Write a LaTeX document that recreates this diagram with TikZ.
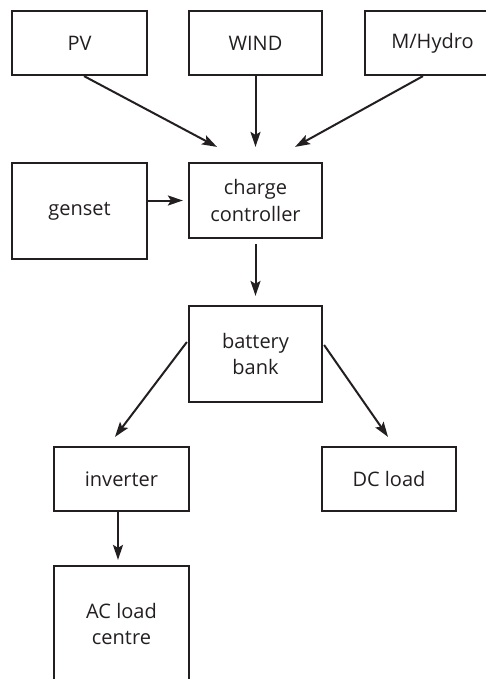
\documentclass[tikz,border=0pt]{standalone}
\usepackage{fontspec}
\setmainfont{Open Sans}
\usetikzlibrary{arrows.meta,calc}
\definecolor{ink}{HTML}{231F20}
\tikzset{
  box/.style={draw=ink, text=ink, line width=2.2pt, rectangle, minimum width=135pt, minimum height=64pt,
    align=center, inner sep=0pt, font=\fontsize{20}{26.5}\selectfont},
  arr/.style={draw=ink, line width=2pt, -{Stealth[length=15pt,width=10pt,inset=3pt]}}
}
\begin{document}
\begin{tikzpicture}[x=1pt,y=-1pt]
  \useasboundingbox (0,0) rectangle (486,679);
  \clip (0,0) rectangle (486,679);
  % sources
  \node[box] (pv) at (79.5,43) {PV};
  \node[box, minimum width=133pt] (wind) at (255.5,43) {WIND};
  \node[box] (hydro) at (432.5,43) {M/Hydro};
  % conversion and storage
  \node[box, minimum height=96pt] (gen) at (79.5,211) {genset};
  \node[box, minimum width=133pt, minimum height=75pt] (cc) at (255.5,200.5) {charge\\controller};
  \node[box, minimum width=133pt, minimum height=96pt] (bb) at (255.5,354) {battery\\bank};
  % loads
  \node[box] (inv) at (121.5,479) {inverter};
  \node[box, minimum width=134pt] (dc) at (389,479) {DC load};
  \node[box, minimum height=116pt] (ac) at (121.5,624) {AC load\\centre};
  % connectors
  \draw[arr] ($(pv.south)+(4.5,0)$) -- ($(cc.north)+(-38.5,-15)$);
  \draw[arr] (wind.south) -- ($(cc.north)+(0,-15)$);
  \draw[arr] ($(hydro.south)+(-9.5,0)$) -- ($(cc.north)+(39.5,-15)$);
  \draw[arr] (gen.east |- cc.west) -- ($(cc.west)+(-5,0)$);
  \draw[arr] ($(cc.south)+(0,5)$) -- ($(bb.north)+(0,-9)$);
  \draw[arr] ($(bb.west)+(-1,-12)$) -- ($(inv.north)+(-6.5,-9)$);
  \draw[arr] ($(bb.east)+(1,-9)$) -- ($(dc.north)+(-1,-9)$);
  \draw[arr] ($(inv.south)+(-3.5,0)$) -- ($(ac.north)+(-3.5,-5)$);
\end{tikzpicture}
\end{document}
